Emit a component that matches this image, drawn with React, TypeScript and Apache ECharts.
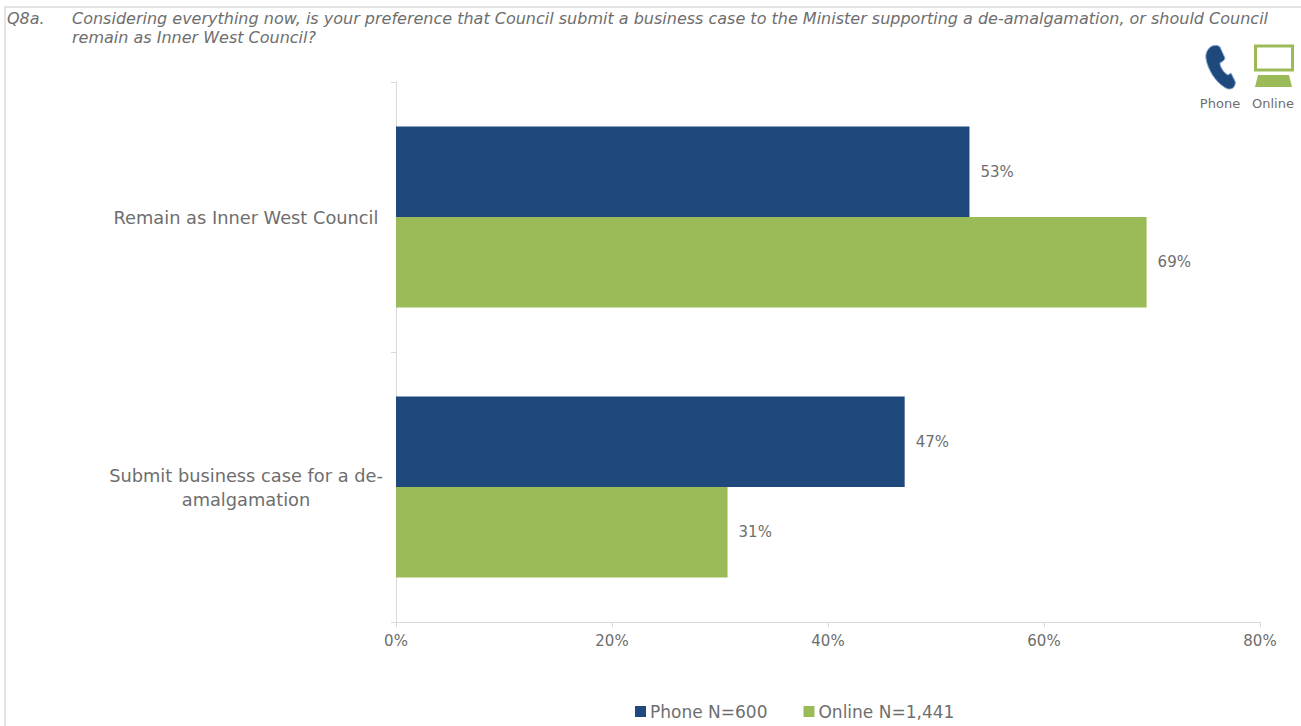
import React, { useEffect, useRef } from "react";
import * as echarts from "echarts";

const categories = ["Remain as Inner West Council", "Submit business case for a de-\namalgamation"];
const phoneValues = [53.1, 47.1];
const onlineValues = [69.5, 30.7];
const phoneLabels = ["53%", "47%"];
const onlineLabels = ["69%", "31%"];
const seriesNames = ["Phone N=600", "Online N=1,441"];
const questionId = "Q8a.";
const questionText =
  "Considering everything now, is your preference that Council submit a business case to the Minister supporting a de-amalgamation, or should Council\nremain as Inner West Council?";

const FONT = "'DejaVu Sans', sans-serif";
const BLUE = "#1f497d";
const GREEN = "#9bbb59";
const TEXT = "#6e6e6e";
const LINE = "#d9d9d9";

echarts.graphic.registerShape(
  "phoneIcon",
  echarts.graphic.extendPath(
    "M7 1 C10 0 13 0 15 2 L20 13 C20 15 18 16 15 18 C15 22 19 28 23 30 L26 28 L30 36 C31 38 30 41 28 43 C25 45 22 44 19 42 C10 36 3 25 1 14 C0 8 3 3 7 1 Z",
    {}
  ) as any
);

export default function App() {
  const ref = useRef<HTMLDivElement>(null);
  useEffect(() => {
    document.body.style.margin = "0";
    document.body.style.overflow = "hidden";
    const chart = echarts.init(ref.current!, undefined, { renderer: "svg" });
    const labelStyle = { fontFamily: FONT, fontSize: 15, color: TEXT };
    const titleStyle = { fontFamily: FONT, fontSize: 16, fontStyle: "italic", fontWeight: "normal", color: TEXT, lineHeight: 19 };
    chart.setOption({
      animation: false,
      backgroundColor: "#ffffff",
      title: [
        { text: questionId, left: 7, top: 9, padding: 0, textStyle: titleStyle },
        { text: questionText, left: 72, top: 9, padding: 0, textStyle: titleStyle },
      ],
      legend: {
        left: 635,
        top: 703,
        padding: 0,
        itemWidth: 11,
        itemHeight: 11,
        itemGap: 36,
        icon: "rect",
        textStyle: { fontFamily: FONT, fontSize: 17, color: TEXT, padding: [0, 0, 0, -1] },
        data: seriesNames,
      },
      grid: { left: 396, right: 41, top: 82, bottom: 104, containLabel: false },
      xAxis: {
        type: "value",
        min: 0,
        max: 80,
        interval: 20,
        axisLine: { show: true, lineStyle: { color: LINE, width: 1 } },
        axisTick: { show: true, length: 5, lineStyle: { color: LINE } },
        splitLine: { show: false },
        axisLabel: { ...labelStyle, margin: 11, formatter: "{value}%" },
      },
      yAxis: {
        type: "category",
        inverse: true,
        data: categories,
        axisLine: { show: true, lineStyle: { color: LINE, width: 1 } },
        axisTick: { show: true, length: 5, alignWithLabel: false, lineStyle: { color: LINE } },
        axisLabel: { fontFamily: FONT, fontSize: 17.8, color: TEXT, align: "center", margin: 150, lineHeight: 24 },
      },
      series: [
        {
          name: seriesNames[0],
          type: "bar",
          data: phoneValues,
          barWidth: "33.5%",
          barGap: 0,
          itemStyle: { color: BLUE },
          label: {
            show: true,
            position: "right",
            distance: 11,
            ...labelStyle,
            formatter: (p: any) => phoneLabels[p.dataIndex],
          },
        },
        {
          name: seriesNames[1],
          type: "bar",
          data: onlineValues,
          barWidth: "33.5%",
          barGap: 0,
          itemStyle: { color: GREEN },
          label: {
            show: true,
            position: "right",
            distance: 11,
            ...labelStyle,
            formatter: (p: any) => onlineLabels[p.dataIndex],
          },
        },
      ],
      graphic: [
        { type: "rect", silent: true, shape: { x: 5, y: 7, width: 1400, height: 800 }, style: { fill: "none", stroke: "#dcdcdc", lineWidth: 1.5 } },
        { type: "phoneIcon", x: 1205, y: 45, style: { fill: BLUE, stroke: "#8fb0d6", lineWidth: 1 } },
        { type: "rect", shape: { x: 1255.5, y: 46, width: 37, height: 24 }, style: { fill: "#ffffff", stroke: GREEN, lineWidth: 3 } },
        { type: "polygon", shape: { points: [[1258, 75], [1289, 75], [1292, 87], [1255, 87]] }, style: { fill: GREEN } },
        { type: "text", x: 1220, y: 103, style: { text: "Phone", fontFamily: FONT, fontSize: 13, fill: TEXT, align: "center", verticalAlign: "middle" } },
        { type: "text", x: 1273, y: 103, style: { text: "Online", fontFamily: FONT, fontSize: 13, fill: TEXT, align: "center", verticalAlign: "middle" } },
      ],
    });
    return () => chart.dispose();
  }, []);
  return <div ref={ref} style={{ width: 1301, height: 726 }} />;
}
